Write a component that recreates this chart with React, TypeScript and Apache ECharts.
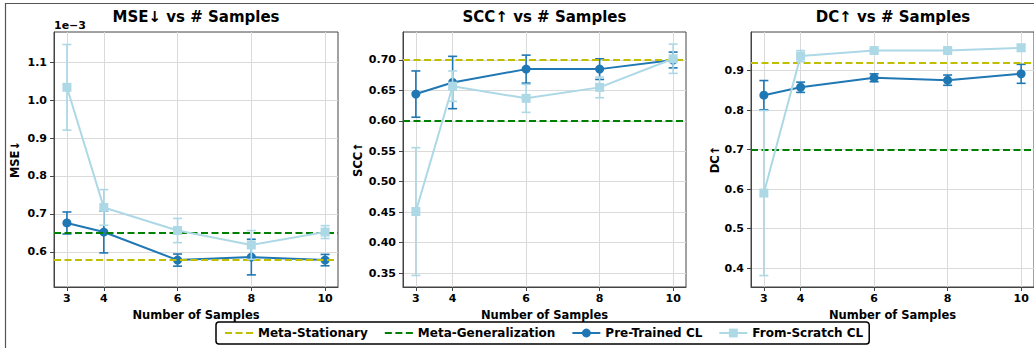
import React, { useEffect, useRef } from "react";
import * as echarts from "echarts";

// ---- data ----
const samples = [3, 4, 6, 8, 10];

// MSE values shown in units of 1e-3
const msePre = [0.676, 0.652, 0.578, 0.586, 0.578];
const msePreErr = [0.029, 0.055, 0.016, 0.047, 0.015];
const mseScratch = [1.034, 0.717, 0.656, 0.618, 0.652];
const mseScratchErr = [0.113, 0.047, 0.032, 0.038, 0.017];
const mseStationary = 0.58;
const mseGeneralization = 0.651;
const mseTicks = [0.6, 0.7, 0.8, 0.9, 1.0, 1.1];

const sccPre = [0.644, 0.663, 0.685, 0.685, 0.7];
const sccPreErr = [0.038, 0.043, 0.023, 0.017, 0.013];
const sccScratch = [0.451, 0.657, 0.637, 0.655, 0.702];
const sccScratchErr = [0.105, 0.025, 0.023, 0.017, 0.024];
const sccStationary = 0.704;
const sccGeneralization = 0.603;
const sccTicks = [0.35, 0.4, 0.45, 0.5, 0.55, 0.6, 0.65, 0.7];

const dcPre = [0.838, 0.858, 0.882, 0.876, 0.892];
const dcPreErr = [0.037, 0.013, 0.01, 0.013, 0.024];
const dcScratch = [0.59, 0.937, 0.951, 0.951, 0.958];
const dcScratchErr = [0.209, 0.014, 0.004, 0.004, 0.008];
const dcStationary = 0.918;
const dcGeneralization = 0.7;
const dcTicks = [0.4, 0.5, 0.6, 0.7, 0.8, 0.9];

const PRE = "#1f77b4";
const SCRATCH = "#add8e6";
const YEL = "#bfbf00";
const GRN = "#008000";
const FONT = "DejaVu Sans";

const panels = [
  { title: "MSE↓ vs # Samples", yName: "MSE↓", pre: msePre, preErr: msePreErr, sc: mseScratch, scErr: mseScratchErr, stat: mseStationary, gen: mseGeneralization, ticks: mseTicks, ymin: 0.507, ymax: 1.18, dec: 1, left: 54, width: 284, nameGap: 33 },
  { title: "SCC↑ vs # Samples", yName: "SCC↑", pre: sccPre, preErr: sccPreErr, sc: sccScratch, scErr: sccScratchErr, stat: sccStationary, gen: sccGeneralization, ticks: sccTicks, ymin: 0.327, ymax: 0.746, dec: 2, left: 403, width: 283, nameGap: 39 },
  { title: "DC↑ vs # Samples", yName: "DC↑", pre: dcPre, preErr: dcPreErr, sc: dcScratch, scErr: dcScratchErr, stat: dcStationary, gen: dcGeneralization, ticks: dcTicks, ymin: 0.352, ymax: 0.998, dec: 1, left: 751, width: 284, nameGap: 30 },
];

const TOP = 32;
const HEIGHT = 255;

function errRender(color: string) {
  return (params: any, api: any) => {
    const x = api.value(0);
    const lo = api.value(1);
    const hi = api.value(2);
    const p1 = api.coord([x, lo]);
    const p2 = api.coord([x, hi]);
    const cw = 4.5;
    const style = { stroke: color, lineWidth: 1.6 };
    return {
      type: "group",
      children: [
        { type: "line", shape: { x1: p1[0], y1: p1[1], x2: p2[0], y2: p2[1] }, style },
        { type: "line", shape: { x1: p1[0] - cw, y1: p1[1], x2: p1[0] + cw, y2: p1[1] }, style },
        { type: "line", shape: { x1: p2[0] - cw, y1: p2[1], x2: p2[0] + cw, y2: p2[1] }, style },
      ],
    };
  };
}

export default function App() {
  const ref = useRef<HTMLDivElement>(null);
  useEffect(() => {
    if (!ref.current) return;
    const chart = echarts.init(ref.current, undefined, { renderer: "svg" });
    const grid: any[] = [];
    const xAxis: any[] = [];
    const yAxis: any[] = [];
    const series: any[] = [];
    const graphic: any[] = [];

    panels.forEach((p, i) => {
      grid.push({ left: p.left, top: TOP, width: p.width, height: HEIGHT, show: true, borderColor: "#444", borderWidth: 1, backgroundColor: "transparent" });
      xAxis.push({
        type: "value", gridIndex: i, min: 2.65, max: 10.35,
        name: "Number of Samples", nameLocation: "middle", nameGap: 19,
        nameTextStyle: { fontFamily: FONT, fontWeight: "bold", fontSize: 11.5, color: "#000" },
        axisLine: { show: true, onZero: false, lineStyle: { color: "#444", width: 1 } },
        axisTick: { show: true, length: 4, customValues: samples, lineStyle: { color: "#444" } },
        axisLabel: { customValues: samples, margin: 6, fontFamily: FONT, fontWeight: "bold", fontSize: 11, color: "#000", formatter: (v: number) => String(v) },
        splitLine: { show: true, lineStyle: { color: "#dadada", width: 1 } },
      });
      yAxis.push({
        type: "value", gridIndex: i, min: p.ymin, max: p.ymax,
        name: p.yName, nameLocation: "middle", nameRotate: 90, nameGap: p.nameGap,
        nameTextStyle: { fontFamily: FONT, fontWeight: "bold", fontSize: 11.5, color: "#000" },
        axisLine: { show: true, onZero: false, lineStyle: { color: "#444", width: 1 } },
        axisTick: { show: true, length: 4, customValues: p.ticks, lineStyle: { color: "#444" } },
        axisLabel: { customValues: p.ticks, margin: 7, fontFamily: FONT, fontWeight: "bold", fontSize: 11, color: "#000", formatter: (v: number) => v.toFixed(p.dec) },
        splitLine: { show: true, lineStyle: { color: "#dadada", width: 1 } },
      });
      const dashStyle = (c: string) => ({ color: c, width: 2, type: [7, 3.5] });
      series.push({
        name: "Meta-Stationary", type: "line", xAxisIndex: i, yAxisIndex: i, data: [], symbol: "none",
        lineStyle: dashStyle(YEL), itemStyle: { color: YEL }, z: 1,
        markLine: { silent: true, symbol: "none", label: { show: false }, lineStyle: dashStyle(YEL), data: [{ yAxis: p.stat }] },
      });
      series.push({
        name: "Meta-Generalization", type: "line", xAxisIndex: i, yAxisIndex: i, data: [], symbol: "none",
        lineStyle: dashStyle(GRN), itemStyle: { color: GRN }, z: 1,
        markLine: { silent: true, symbol: "none", label: { show: false }, lineStyle: dashStyle(GRN), data: [{ yAxis: p.gen }] },
      });
      series.push({
        name: "Pre-Trained CL err", type: "custom", xAxisIndex: i, yAxisIndex: i, z: 3,
        renderItem: errRender(PRE), encode: { x: 0, y: [1, 2] },
        data: samples.map((x, k) => [x, p.pre[k] - p.preErr[k], p.pre[k] + p.preErr[k]]),
      });
      series.push({
        name: "Pre-Trained CL", type: "line", xAxisIndex: i, yAxisIndex: i, z: 4,
        data: samples.map((x, k) => [x, p.pre[k]]),
        symbol: "circle", symbolSize: 9, lineStyle: { color: PRE, width: 2 }, itemStyle: { color: PRE },
      });
      series.push({
        name: "From-Scratch CL err", type: "custom", xAxisIndex: i, yAxisIndex: i, z: 5,
        renderItem: errRender(SCRATCH), encode: { x: 0, y: [1, 2] },
        data: samples.map((x, k) => [x, p.sc[k] - p.scErr[k], p.sc[k] + p.scErr[k]]),
      });
      series.push({
        name: "From-Scratch CL", type: "line", xAxisIndex: i, yAxisIndex: i, z: 6,
        data: samples.map((x, k) => [x, p.sc[k]]),
        symbol: "rect", symbolSize: 9, lineStyle: { color: SCRATCH, width: 2 }, itemStyle: { color: SCRATCH },
      });
      graphic.push({
        type: "text", x: p.left + p.width / 2, y: 17,
        style: { text: p.title, fontFamily: FONT, fontWeight: "bold", fontSize: 15, fill: "#000", textAlign: "center", textVerticalAlign: "middle" },
      });
    });

    graphic.push({
      type: "text", x: 54, y: 25,
      style: { text: "1e−3", fontFamily: FONT, fontWeight: "bold", fontSize: 11, fill: "#000", textAlign: "left", textVerticalAlign: "middle" },
    });
    graphic.push({ type: "line", shape: { x1: 5, y1: 3.5, x2: 1034, y2: 3.5 }, style: { stroke: "#555", lineWidth: 1.2 } });
    graphic.push({ type: "line", shape: { x1: 5.5, y1: 3, x2: 5.5, y2: 348 }, style: { stroke: "#555", lineWidth: 1.2 } });

    chart.setOption({
      animation: false,
      backgroundColor: "#fff",
      grid, xAxis, yAxis, series, graphic,
      legend: {
        data: [
          { name: "Meta-Stationary", itemStyle: { opacity: 0 } },
          { name: "Meta-Generalization", itemStyle: { opacity: 0 } },
          { name: "Pre-Trained CL" },
          { name: "From-Scratch CL" },
        ],
        left: 216, top: 322, orient: "horizontal",
        itemWidth: 28, itemHeight: 11, itemGap: 16,
        padding: [5, 6, 5, 8],
        borderColor: "#000", borderWidth: 1.5, borderRadius: 3,
        textStyle: { fontFamily: FONT, fontWeight: "bold", fontSize: 12, color: "#000" },
      },
    });
    return () => chart.dispose();
  }, []);
  return <div ref={ref} style={{ position: "fixed", left: 0, top: 0, width: 1034, height: 348, background: "#fff" }} />;
}
